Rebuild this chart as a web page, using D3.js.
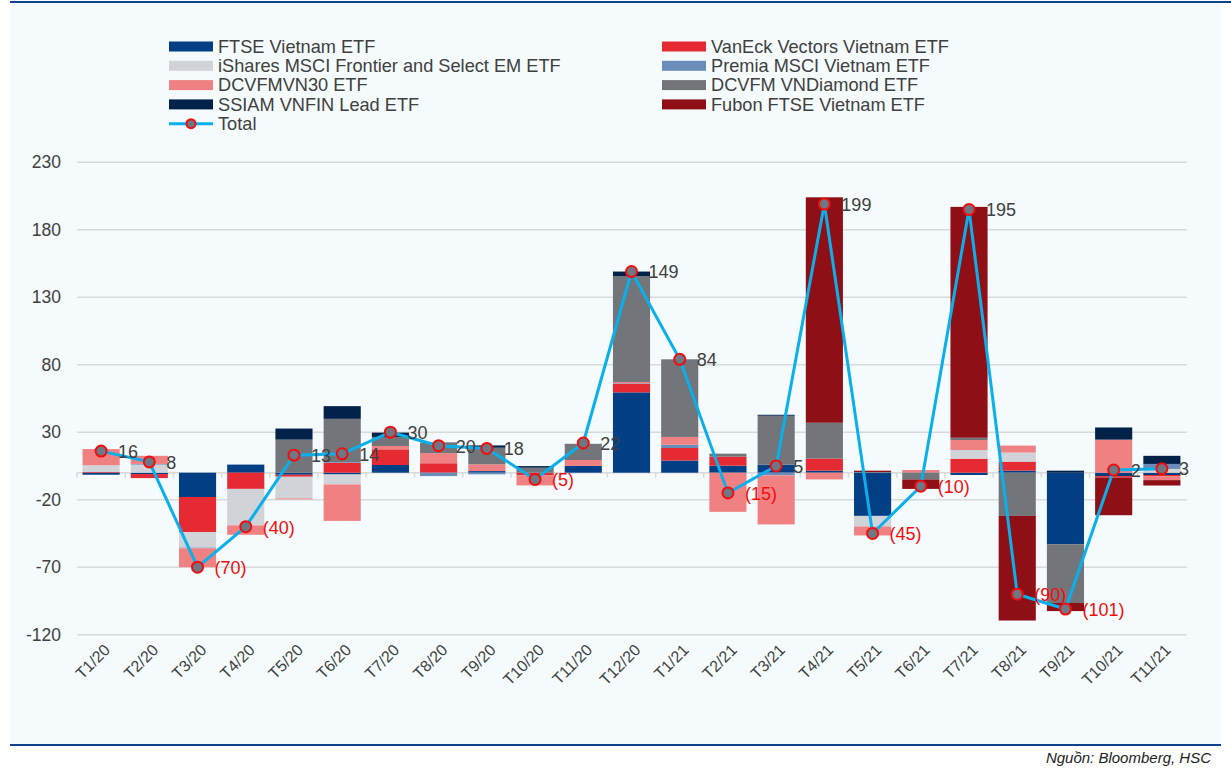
<!DOCTYPE html>
<html lang="vi">
<meta charset="utf-8"/>
<body>
<svg id="chart" width="1231" height="779"></svg>
</body>
<style>
	body{ margin:0; background:#ffffff; }
	text{ font-family:"Liberation Sans", Arial, sans-serif; }
</style>
<script src="https://d3js.org/d3.v7.min.js"></script>
<script>
// months on the x axis
let months = ["T1/20","T2/20","T3/20","T4/20","T5/20","T6/20","T7/20","T8/20","T9/20","T10/20","T11/20","T12/20",
	"T1/21","T2/21","T3/21","T4/21","T5/21","T6/21","T7/21","T8/21","T9/21","T10/21","T11/21"]

// flows per ETF
let ftse     = [-1.5,-1,-18,6,-1.5,-1.3,5.7,0,1.2,0,5,59.5,9,5.2,5.9,1.5,-32,0,-1.7,1.5,-53,-2.5,-1.7]
let vaneck   = [0.5,-3,-26,-12,-1.5,7.4,11.6,7,0,-2,0,6.2,9.3,6.7,0,9,0,0,10.4,6.7,0,-1.2,-0.8]
let ishares  = [5,6,-11.5,-27,-16,-7.4,0,0,0,0,0,0,0,0,0,0,-7.8,0,6.4,6.7,0,0,2.8]
let premia   = [0,0.5,-0.5,0,0,0.5,0,-2.5,-1.2,0,0,0.5,2.4,0,-2,0,0,0,0,0,0,0,3.7]
let vn30     = [12,6,-14,-7,-0.7,-27,2.5,7.5,5,-7.4,4.4,1,5.8,-29,-36.3,-5,-6.7,2,7.4,5.2,0,24.5,-3]
let diamond  = [0,0,0,0,24.5,32,6.7,8,12.3,3.7,12,78.3,57.5,2.2,36.3,26.5,0.5,-5,1.7,-32,-43.5,0,0]
let ssiam    = [0,0,0,0,8.2,9.4,3.2,0,1.7,1.2,0,3.5,0,0,0.7,0,0,0,0,0,1.5,9,6]
let fubon    = [0,0,0,0,0,0,0,0,0,0,0,0,0,0,0,167,1,-7,171,-77.5,-6,-27.8,-4]
let total    = [16,8,-70,-40,13,14,30,20,18,-5,22,149,84,-15,5,199,-45,-10,195,-90,-101,2,3]

let seriesNames = ["FTSE Vietnam ETF","VanEck Vectors Vietnam ETF","iShares MSCI Frontier and Select EM ETF",
	"Premia MSCI Vietnam ETF","DCVFMVN30 ETF","DCVFM VNDiamond ETF","SSIAM VNFIN Lead ETF","Fubon FTSE Vietnam ETF"]
let seriesColors = ["#023f85","#e52a33","#d0d3d8","#6a8cb8","#f08183","#727579","#03224a","#8e1016"]
let seriesValues = [ftse, vaneck, ishares, premia, vn30, diamond, ssiam, fubon]

let yTicks = [230,180,130,80,30,-20,-70,-120]

let svg = d3.select("#chart")
let textColor = "#404040"

// panel + frame lines
svg.append("rect").attr("x",10).attr("y",3).attr("width",1211).attr("height",742).attr("fill","#f5fbfc")
svg.append("line").attr("x1",10).attr("x2",1231).attr("y1",2).attr("y2",2).attr("stroke","#0e428d").attr("stroke-width",2)
svg.append("line").attr("x1",10).attr("x2",1221).attr("y1",745).attr("y2",745).attr("stroke","#0e428d").attr("stroke-width",2)

let xScale = d3.scaleBand().domain(months).range([77,1186]).paddingInner(0.23).paddingOuter(0.115)
let yScale = d3.scaleLinear().domain([-120,230]).range([634.7,162.2])
let cx = m => xScale(m) + xScale.bandwidth()/2

// gridlines + y labels
svg.append("g").selectAll("line").data(yTicks).enter().append("line")
	.attr("x1",77).attr("x2",1187)
	.attr("y1",d=>yScale(d)).attr("y2",d=>yScale(d))
	.attr("stroke","#d9d9d9").attr("stroke-width",1.5)
svg.append("g").selectAll("text").data(yTicks).enter().append("text")
	.attr("x",61).attr("y",d=>yScale(d)).attr("dy","0.35em")
	.attr("text-anchor","end").attr("font-size",17.5).attr("fill",textColor)
	.text(d=>d)

// zero axis with small ticks between months
let y0 = yScale(0)
let step = xScale.step()
svg.append("line").attr("x1",77).attr("x2",1187).attr("y1",y0).attr("y2",y0)
	.attr("stroke","#d9d9d9").attr("stroke-width",1.5)
svg.append("g").selectAll("line").data(d3.range(months.length+1)).enter().append("line")
	.attr("x1",i=>77+i*step).attr("x2",i=>77+i*step)
	.attr("y1",y0).attr("y2",y0+5)
	.attr("stroke","#d9d9d9").attr("stroke-width",1.5)

// stacked bars
let rows = months.map((m,i)=>{
	let r = {month:m}
	seriesNames.forEach((s,k)=>{ r[s] = seriesValues[k][i] })
	return r
})
let stack = d3.stack().keys(seriesNames).offset(d3.stackOffsetDiverging)(rows)

svg.append("g").selectAll("g").data(stack).enter().append("g")
	.attr("fill",(d,k)=>seriesColors[k])
	.selectAll("rect").data(d=>d).enter().append("rect")
	.attr("x",d=>xScale(d.data.month))
	.attr("width",xScale.bandwidth())
	.attr("y",d=>yScale(Math.max(d[0],d[1])))
	.attr("height",d=>Math.abs(yScale(d[0])-yScale(d[1])))

// x labels
svg.append("g").selectAll("text").data(months).enter().append("text")
	.attr("transform",m=>"translate("+(cx(m)+10)+",651) rotate(-45)")
	.attr("text-anchor","end").attr("font-size",16).attr("fill",textColor)
	.text(m=>m)

// total line
let line = d3.line().x((d,i)=>cx(months[i])).y(d=>yScale(d))
svg.append("path").datum(total).attr("d",line)
	.attr("fill","none").attr("stroke","#0ab0ec").attr("stroke-width",3)
svg.append("g").selectAll("circle").data(total).enter().append("circle")
	.attr("cx",(d,i)=>cx(months[i])).attr("cy",d=>yScale(d)).attr("r",5.5)
	.attr("fill","#6e7884").attr("stroke","#f20d0d").attr("stroke-width",2)
svg.append("g").selectAll("text").data(total).enter().append("text")
	.attr("x",(d,i)=>cx(months[i])+17).attr("y",d=>yScale(d)).attr("dy","0.38em")
	.attr("font-size",18)
	.attr("fill",d=>d<0?"#f20d0d":textColor)
	.text(d=>d<0?"("+(-d)+")":d)

// legend
let legend = svg.append("g")
seriesNames.forEach((s,k)=>{
	let lx = k%2==0 ? 169 : 662
	let ly = 46.5 + Math.floor(k/2)*19.3
	legend.append("rect").attr("x",lx).attr("y",ly-5).attr("width",44).attr("height",10).attr("fill",seriesColors[k])
	legend.append("text").attr("x",lx+49).attr("y",ly).attr("dy","0.35em")
		.attr("font-size",18.2).attr("fill",textColor).text(s)
})
let ty = 46.5 + 4*19.3
legend.append("line").attr("x1",169).attr("x2",213).attr("y1",ty).attr("y2",ty).attr("stroke","#0ab0ec").attr("stroke-width",3)
legend.append("circle").attr("cx",191).attr("cy",ty).attr("r",4.5).attr("fill","#6e7884").attr("stroke","#f20d0d").attr("stroke-width",2)
legend.append("text").attr("x",218).attr("y",ty).attr("dy","0.35em").attr("font-size",18.2).attr("fill",textColor).text("Total")

// source
svg.append("text").attr("x",1211).attr("y",763).attr("text-anchor","end")
	.attr("font-size",15).attr("font-style","italic").attr("fill","#222222")
	.text("Nguồn: Bloomberg, HSC")
</script>
</html>
